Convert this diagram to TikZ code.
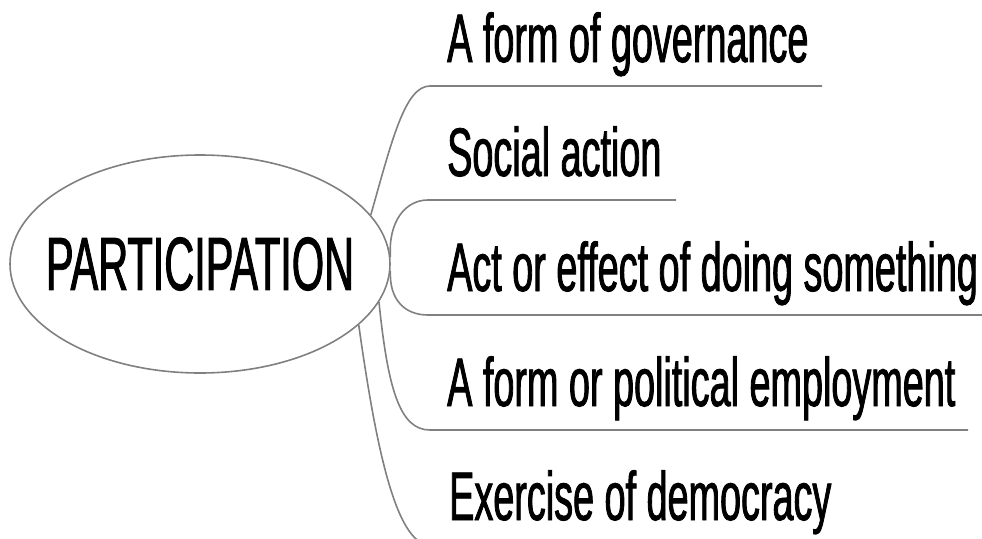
\documentclass[tikz,border=0pt]{standalone}
\usepackage{fontspec}
\setmainfont{Liberation Sans}
\newfontfamily\narrowfont[FakeStretch=0.55,FakeBold=1.2]{Liberation Sans}
\usetikzlibrary{shapes.geometric}
\definecolor{linegray}{RGB}{128,128,128}
\begin{document}
\begin{tikzpicture}[x=1pt,y=-1pt,
  conn/.style={draw=linegray, line width=1.6pt},
  leaf/.style={anchor=base west, inner sep=0pt, font=\narrowfont\fontsize{68.7}{80}\selectfont},
  hub/.style={ellipse, draw=linegray, line width=1.6pt, minimum width=380pt, minimum height=218pt, inner sep=0pt, font=\narrowfont\fontsize{75.4}{86}\selectfont}]
\useasboundingbox (0,0) rectangle (982,538);
\clip (0,0) rectangle (982,538);
\node[hub] (p) at (200,264) {\makebox[0pt]{PARTICIPATION}};
\node[leaf] (t1) at (447,62) {A form of governance};
\node[leaf] (t2) at (447,176) {Social action};
\node[leaf] (t3) at (447,291) {Act or effect of doing something};
\node[leaf] (t4) at (447,406) {A form or political employment};
\node[leaf] (t5) at (449,520) {Exercise of democracy};
\coordinate (s1) at (430,86);  \coordinate (e1) at (822,86);
\coordinate (s2) at (428,200); \coordinate (e2) at (676,200);
\coordinate (s3) at (428,315); \coordinate (e3) at (994,315);
\coordinate (s4) at (430,430); \coordinate (e4) at (968,430);
\coordinate (s5) at (430,545); \coordinate (e5) at (836,545);
\draw[conn] (p.16) .. controls (392,140) and (405,86) .. (s1) -- (e1);
\draw[conn] (p.2) .. controls (388,222) and (405,200) .. (s2) -- (e2);
\draw[conn] (p.-2) .. controls (389,300) and (405,315) .. (s3) -- (e3);
\draw[conn] (p.-12.7) .. controls (388,390) and (400,430) .. (s4) -- (e4);
\draw[conn] (p.-21.2) .. controls (375,440) and (395,545) .. (s5) -- (e5);
\end{tikzpicture}
\end{document}
